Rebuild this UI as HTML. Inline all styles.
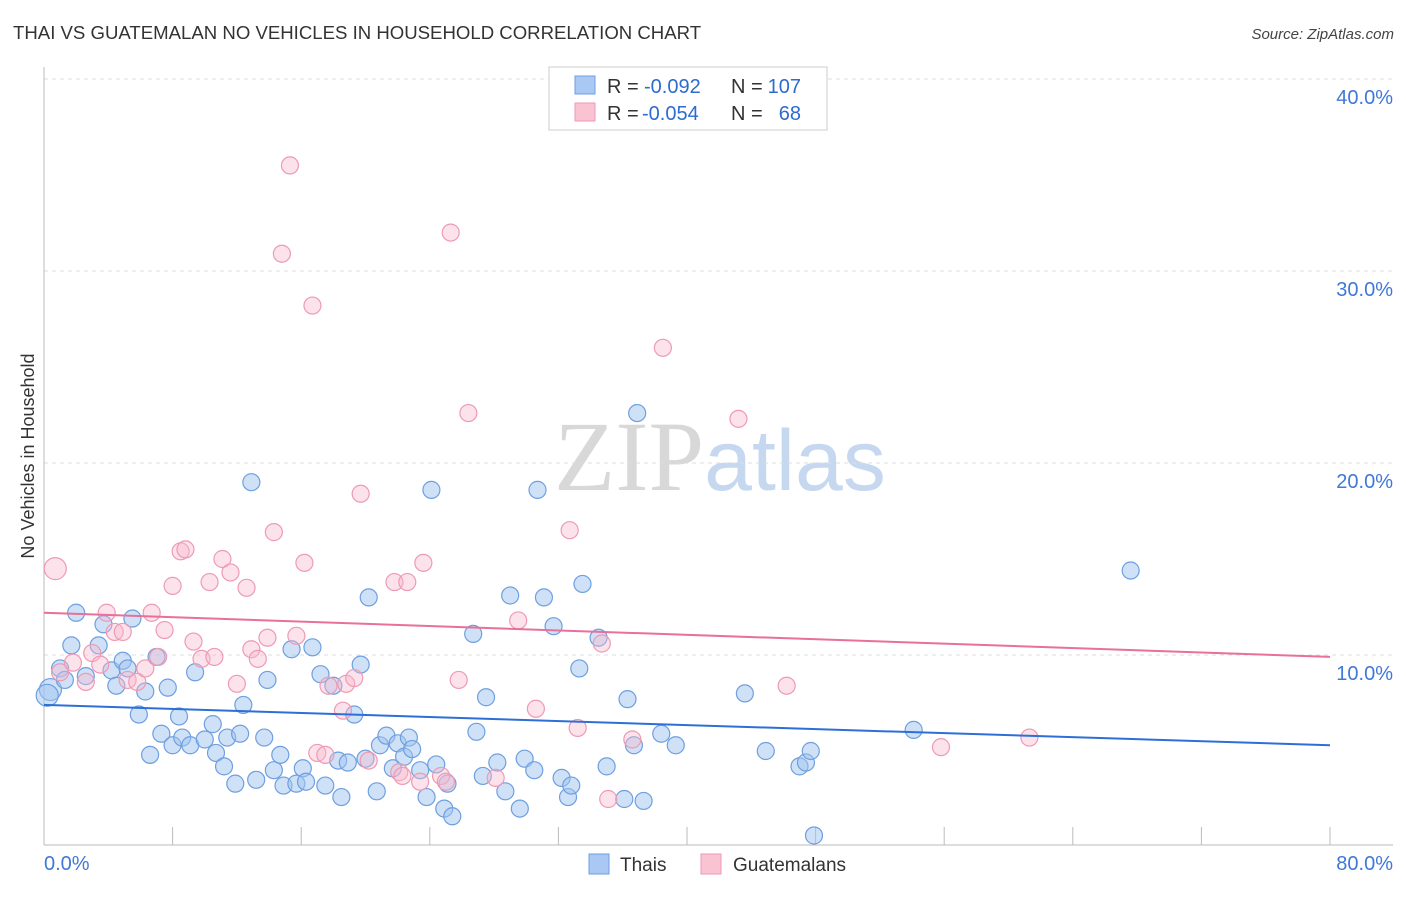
<!DOCTYPE html>
<html><head><meta charset="utf-8"><style>
body{margin:0;background:#fff;font-family:"Liberation Sans",sans-serif;}
svg text{font-family:"Liberation Sans",sans-serif;}
</style></head><body>
<svg id="chart" width="1406" height="892" xmlns="http://www.w3.org/2000/svg">
<text x="13" y="39" font-size="18.6" fill="#333">THAI VS GUATEMALAN NO VEHICLES IN HOUSEHOLD CORRELATION CHART</text>
<text x="1394" y="39" font-size="15" fill="#444" text-anchor="end" font-style="italic">Source: ZipAtlas.com</text>
<text x="720" y="490" font-size="100" text-anchor="middle"><tspan fill="#d8d8d8" font-family="Liberation Serif">ZIP</tspan><tspan fill="#c5d8f0" font-size="86">atlas</tspan></text>
<text transform="translate(34,456) rotate(-90)" font-size="18" fill="#333" text-anchor="middle">No Vehicles in Household</text>
<g id="grid"></g><g id="axes"></g><g id="pts"></g><g id="trends"></g>
<g>
<rect x="549" y="67" width="278" height="63" fill="#fff" stroke="#ccc"/>
<rect x="575" y="76" width="20" height="18" fill="#a9c8f3" stroke="#6e9fe0"/>
<rect x="575" y="103" width="20" height="18" fill="#f9c3d3" stroke="#ee9ab4"/>
<text x="607" y="93" font-size="20" fill="#333">R =</text>
<text x="644" y="93" font-size="20" fill="#2d6bd0">-0.092</text>
<text x="731" y="93" font-size="20" fill="#333">N =</text>
<text x="801" y="93" font-size="20" fill="#2d6bd0" text-anchor="end">107</text>
<text x="607" y="120" font-size="20" fill="#333">R =</text>
<text x="642" y="120" font-size="20" fill="#2d6bd0">-0.054</text>
<text x="731" y="120" font-size="20" fill="#333">N =</text>
<text x="801" y="120" font-size="20" fill="#2d6bd0" text-anchor="end">68</text>
</g>
<g>
<rect x="589" y="854" width="20" height="20" fill="#a9c8f3" stroke="#6e9fe0"/>
<text x="620" y="871" font-size="19" fill="#333">Thais</text>
<rect x="701" y="854" width="20" height="20" fill="#f9c3d3" stroke="#ee9ab4"/>
<text x="733" y="871" font-size="19" fill="#333">Guatemalans</text>
</g>
</svg>
<script>
const blueX=[0.4,1.0,1.3,2.0,1.7,2.6,3.4,3.7,4.2,4.5,4.9,5.2,5.5,5.9,6.3,6.6,7.0,7.3,7.7,8.0,8.4,8.6,9.1,9.4,10.0,10.5,10.7,11.2,11.4,11.9,12.2,12.4,12.9,13.2,13.7,13.9,14.3,14.7,14.9,15.4,15.7,16.1,16.3,16.7,17.2,17.5,18.0,18.3,18.5,18.9,19.3,19.7,20.0,20.2,20.7,20.9,21.3,21.7,22.0,22.4,22.7,22.9,23.4,23.8,24.1,24.4,24.9,25.1,25.4,26.7,26.9,27.3,27.5,28.2,28.7,29.0,29.6,29.9,30.5,30.7,31.1,31.7,32.2,32.6,32.8,33.3,33.5,34.5,35.0,36.3,36.7,36.9,36.1,37.3,38.4,39.3,43.6,44.9,47.0,47.4,47.7,47.9,54.1,67.6,0.2];
const blueY=[8.2,9.3,8.7,12.2,10.5,8.9,10.5,11.6,9.2,8.4,9.7,9.3,11.9,6.9,8.1,4.8,9.9,5.9,8.3,5.3,6.8,5.7,5.3,9.1,5.6,6.4,4.9,4.2,5.7,3.3,5.9,7.4,19.0,3.5,5.7,8.7,4.0,4.8,3.2,10.3,3.3,4.1,3.4,10.4,9.0,3.2,8.4,4.5,2.6,4.4,6.9,9.5,4.6,13.0,2.9,5.3,5.8,4.1,5.4,4.7,5.7,5.1,4.0,2.6,18.6,4.3,2.0,3.3,1.6,11.1,6.0,3.7,7.8,4.4,2.9,13.1,2.0,4.6,4.0,18.6,13.0,11.5,3.6,2.6,3.2,9.3,13.7,10.9,4.2,7.7,5.3,22.6,2.5,2.4,5.9,5.3,8.0,5.0,4.2,4.4,5.0,0.6,6.1,14.4,7.9];
const pinkX=[0.7,1.0,1.8,2.6,3.0,3.5,3.9,4.4,4.9,5.2,5.8,6.3,6.7,7.1,7.5,8.0,8.5,8.8,9.3,9.8,10.3,10.6,11.1,11.6,12.0,12.6,12.9,13.3,13.9,14.3,14.8,15.3,15.7,16.2,16.7,17.0,17.5,17.7,18.6,18.8,19.3,19.7,20.2,21.8,22.1,22.3,22.6,23.4,23.6,24.7,25.0,25.3,25.8,26.4,28.1,29.5,30.6,32.7,33.2,34.7,35.1,36.6,38.5,43.2,46.2,55.8,61.3];
const pinkY=[14.5,9.1,9.6,8.6,10.1,9.5,12.2,11.2,11.2,8.7,8.6,9.3,12.2,9.9,11.3,13.6,15.4,15.5,10.7,9.8,13.8,9.9,15.0,14.3,8.5,13.5,10.3,9.8,10.9,16.4,30.9,35.5,11.0,14.8,28.2,4.9,4.8,8.4,7.1,8.5,8.8,18.4,4.5,13.8,3.9,3.7,13.8,3.4,14.8,3.7,3.4,32.0,8.7,22.6,3.6,11.8,7.2,16.5,6.2,10.6,2.5,5.6,26.0,22.3,8.4,5.2,5.7];
const blueBig=[0,104];
const pinkBig=[0];
const trendX=[0,80];
const blueTrend=[7.4,5.3];
const pinkTrend=[12.2,9.9];
const yTicks=[10,20,30,40];
const xTickVals=[0,8,16,24,32,40,48,56,64,72,80];

const NS="http://www.w3.org/2000/svg";
const xs=v=>44+v*16.075;
const ys=v=>847-v*19.2;
function mk(tag,attrs,parent){const e=document.createElementNS(NS,tag);for(const k in attrs)e.setAttribute(k,attrs[k]);parent.appendChild(e);return e;}
const grid=document.getElementById('grid'),axes=document.getElementById('axes'),pts=document.getElementById('pts'),tr=document.getElementById('trends');
yTicks.forEach(t=>{
  const l=mk('line',{x1:44,x2:1393,y1:ys(t),y2:ys(t),stroke:'#ddd','stroke-dasharray':'4,4'},grid);
  
  
  const tx=mk('text',{x:1393,y:ys(t)+25,'font-size':20,fill:'#3f78d6','text-anchor':'end'},axes);
  tx.textContent=t.toFixed(1)+'%';
  
  
});
const ax=mk('line',{x1:44,x2:1393,y1:845,y2:845,stroke:'#bbb'},axes);


const ay=mk('line',{x1:44,x2:44,y1:67,y2:845,stroke:'#bbb'},axes);


xTickVals.forEach(t=>{
  const l=mk('line',{x1:xs(t),x2:xs(t),y1:827,y2:845,stroke:'#bbb'},axes);
  
  
});
[[0,'start'],[80,'end']].forEach(([t,a])=>{
  const tx=mk('text',{x:t===0?44:1393,y:870,'font-size':20,fill:'#3f78d6','text-anchor':a},axes);
  tx.textContent=t.toFixed(1)+'%';
  
  
});
function drawPts(X,Y,big,fill,stroke,name){
  X.forEach((x,i)=>{
    const c=mk('circle',{cx:xs(x),cy:ys(Y[i]),r:big.includes(i)?11:8.5,fill:fill,stroke:stroke,'stroke-width':1.2},pts);
    
    
  });
}
drawPts(blueX,blueY,blueBig,'rgba(160,195,240,0.5)','#6e9fe0','thais-point');
drawPts(pinkX,pinkY,pinkBig,'rgba(248,185,205,0.4)','#ee9ab4','guatemalans-point');
const bl=mk('line',{x1:xs(trendX[0]),x2:xs(trendX[1]),y1:ys(blueTrend[0]),y2:ys(blueTrend[1]),stroke:'#2d6fd6','stroke-width':2},tr);


const pl=mk('line',{x1:xs(trendX[0]),x2:xs(trendX[1]),y1:ys(pinkTrend[0]),y2:ys(pinkTrend[1]),stroke:'#e8709a','stroke-width':2},tr);


</script>
</body></html>
